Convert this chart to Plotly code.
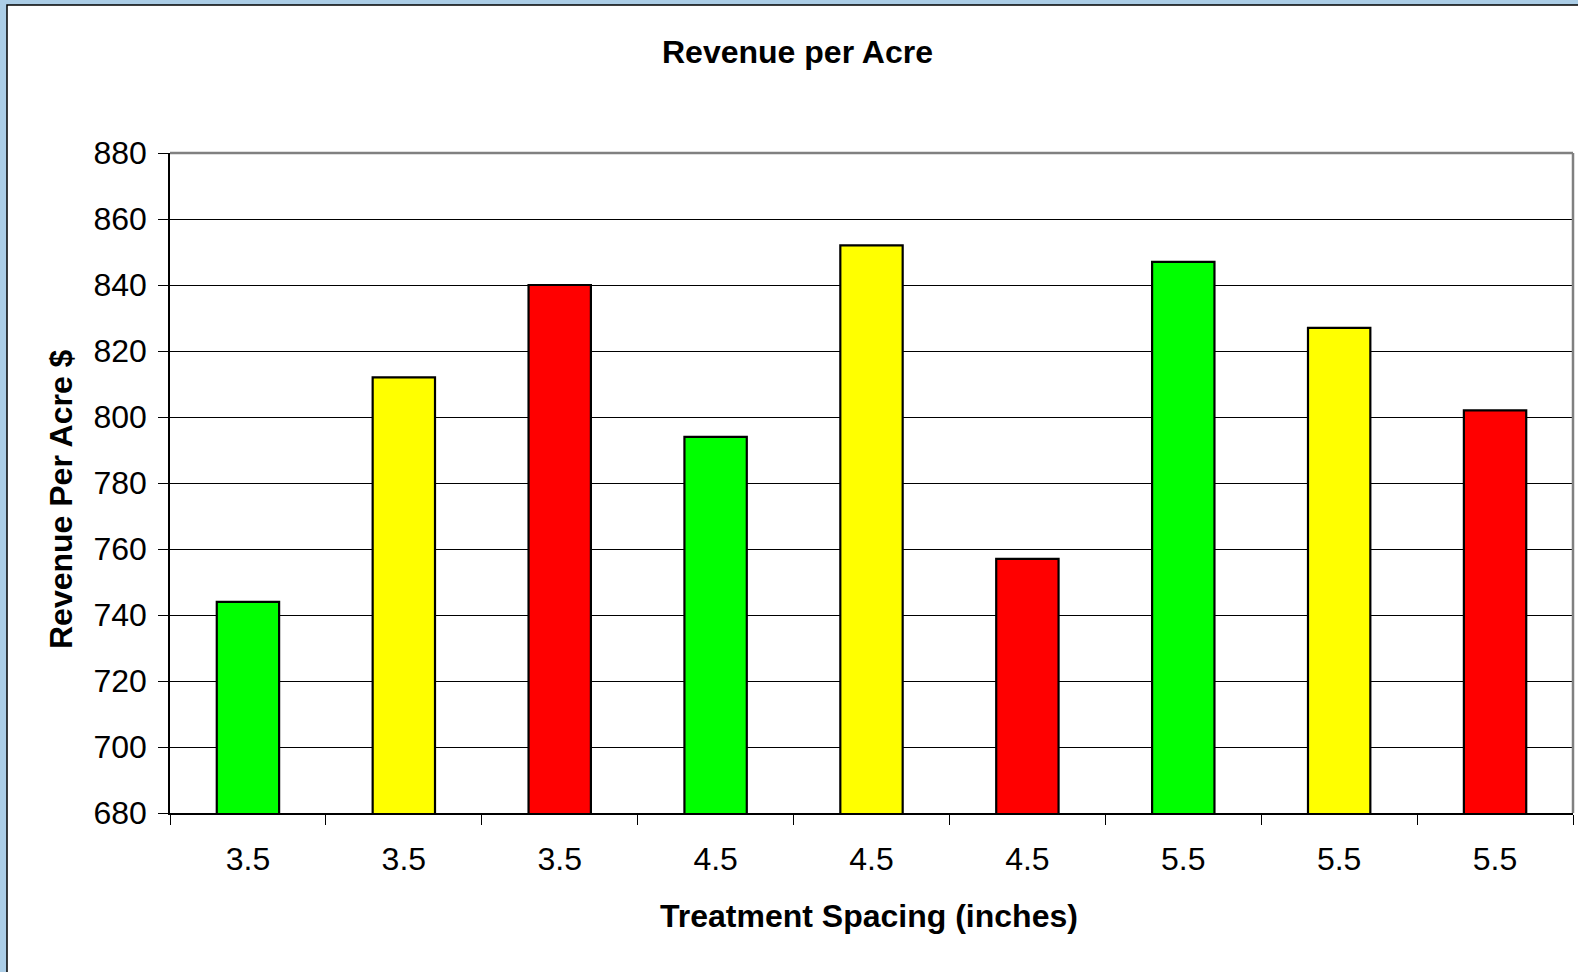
import plotly.graph_objects as go

# ---- data ----
spacing = ["3.5", "3.5", "3.5", "4.5", "4.5", "4.5", "5.5", "5.5", "5.5"]
revenue = [744, 812, 840, 794, 852, 757, 847, 827, 802]
bar_colors = ["#00ff00", "#ffff00", "#ff0000",
              "#00ff00", "#ffff00", "#ff0000",
              "#00ff00", "#ffff00", "#ff0000"]
y_ticks = [680, 700, 720, 740, 760, 780, 800, 820, 840, 860, 880]

title_text = "Revenue per Acre"
x_title = "Treatment Spacing (inches)"
y_title = "Revenue Per Acre $"

positions = list(range(len(spacing)))
boundaries = [p - 0.5 for p in positions] + [positions[-1] + 0.5]

FONT = "Liberation Sans, Arial, sans-serif"

fig = go.Figure()
fig.add_trace(go.Bar(
    x=positions, y=revenue,
    marker=dict(color=bar_colors, line=dict(color="black", width=2.2)),
    width=0.4,
    showlegend=False,
))

W, H = 1578, 972
L, R, T, B = 170, 5, 153, 159
pw = W - L - R
ph = H - T - B

def px_x(px):
    return (px - L) / pw

def px_y(py):
    return (H - B - py) / ph

fig.update_layout(
    width=W, height=H,
    margin=dict(l=L, r=R, t=T, b=B),
    paper_bgcolor="#abcde6",
    plot_bgcolor="#c0c0c0",
    font=dict(family=FONT, color="black"),
    bargap=0.6,
    xaxis=dict(
        range=[-0.5, len(spacing) - 0.5],
        tickmode="array", tickvals=positions, ticktext=spacing,
        ticks="", showgrid=False, zeroline=False,
        showline=True, linecolor="black", linewidth=1.5,
        tickfont=dict(size=32, family=FONT, color="black"),
        ticklabelstandoff=17,
        minor=dict(tickmode="array", tickvals=boundaries, ticks="outside",
                   ticklen=10, tickcolor="black", tickwidth=1, showgrid=False),
        fixedrange=True,
    ),
    yaxis=dict(
        range=[680, 880],
        tickmode="array", tickvals=y_ticks,
        ticks="outside", ticklen=10, tickcolor="black", tickwidth=1,
        showgrid=True, gridcolor="black", gridwidth=1.2,
        zeroline=False,
        showline=True, linecolor="black", linewidth=1.5,
        tickfont=dict(size=32, family=FONT, color="black"),
        ticklabelstandoff=5,
        fixedrange=True,
    ),
    shapes=[
        dict(type="rect", xref="paper", yref="paper",
             x0=px_x(7), x1=px_x(W + 20), y0=px_y(H + 20), y1=px_y(5),
             fillcolor="white", line=dict(color="black", width=1.5),
             layer="below"),
        dict(type="line", xref="paper", yref="paper",
             x0=0, x1=1, y0=1, y1=1, line=dict(color="#808080", width=2.5)),
        dict(type="line", xref="paper", yref="paper",
             x0=1, x1=1, y0=0, y1=1, line=dict(color="#808080", width=2.5)),
    ],
    annotations=[
        dict(text="<b>" + title_text + "</b>", xref="paper", yref="paper",
             x=px_x(797), y=px_y(52), xanchor="center", yanchor="middle",
             showarrow=False, font=dict(size=32, family=FONT, color="black")),
        dict(text="<b>" + x_title + "</b>", xref="paper", yref="paper",
             x=px_x(869), y=px_y(916), xanchor="center", yanchor="middle",
             showarrow=False, font=dict(size=32, family=FONT, color="black")),
        dict(text="<b>" + y_title + "</b>", xref="paper", yref="paper",
             x=px_x(61), y=px_y(499), xanchor="center", yanchor="middle",
             textangle=-90,
             showarrow=False, font=dict(size=32, family=FONT, color="black")),
    ],
)

fig.write_html("out.html",
               config={"displayModeBar": False},
               post_script="document.body.style.margin='0';document.body.style.overflow='hidden';")
